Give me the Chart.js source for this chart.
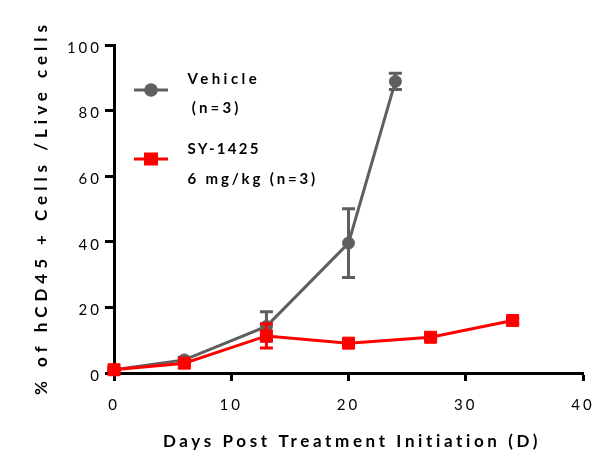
<!DOCTYPE html>
<html>
<head>
<meta charset="utf-8">
<script src="https://cdn.jsdelivr.net/npm/chart.js@4/dist/chart.umd.min.js"></script>
<style>
html,body{margin:0;padding:0;background:#fff;}
#c{display:block;}
</style>
</head>
<body>
<canvas id="c" width="594" height="452"></canvas>
<script>
// ---- data ----
const xTickValues = [0, 10, 20, 30, 40];
const yTickValues = [0, 20, 40, 60, 80, 100];
const vehicleDays = [0, 6, 13, 20, 24];
const vehicleMean = [1.0, 4.0, 14.2, 39.6, 88.9];
const vehicleErr  = [0.5, 0.8, 4.5, 10.5, 2.5];
const syDays = [0, 6, 13, 20, 27, 34];
const syMean = [1.0, 3.0, 11.3, 9.1, 10.9, 16.0];
const syErr  = [0.5, 0.5, 3.7, 0.8, 0.8, 0.8];
const legendLabels = [["Vehicle", "(n=3)"], ["SY-1425", "6 mg/kg (n=3)"]];
const xTitle = "Days Post Treatment Initiation (D)";
const yTitle = "% of hCD45 + Cells /Live cells";

const GRAY = '#5f5f5f';
const RED = '#ff0000';

function pts(xs, ys, es) { return xs.map((x, i) => ({x: x, y: ys[i], e: es[i]})); }

function spacedText(ctx, text, x, y, target) {
  ctx.letterSpacing = '0px';
  const w0 = ctx.measureText(text).width;
  const sp = text.length > 1 ? (target - w0) / (text.length - 1) : 0;
  ctx.letterSpacing = sp + 'px';
  ctx.fillText(text, x, y);
  ctx.letterSpacing = '0px';
}

const errorBars = {
  id: 'errorBars',
  beforeDatasetDraw(chart, args) {
    const ds = chart.data.datasets[args.index];
    const xs = chart.scales.x, ys = chart.scales.y;
    const ctx = chart.ctx;
    ctx.save();
    ctx.strokeStyle = ds.borderColor;
    ctx.lineWidth = 3;
    ds.data.forEach(p => {
      const px = xs.getPixelForValue(p.x);
      const top = ys.getPixelForValue(p.y + p.e);
      const bot = ys.getPixelForValue(p.y - p.e);
      ctx.beginPath();
      ctx.moveTo(px, top); ctx.lineTo(px, bot);
      ctx.moveTo(px - 6.5, top); ctx.lineTo(px + 6.5, top);
      ctx.moveTo(px - 6.5, bot); ctx.lineTo(px + 6.5, bot);
      ctx.stroke();
    });
    ctx.restore();
  }
};

const spacing = {
  id: 'spacing',
  beforeDraw(chart) { chart.ctx.letterSpacing = '3px'; }
};

const decor = {
  id: 'decor',
  afterDraw(chart) {
    const ctx = chart.ctx;
    ctx.save();
    ctx.fillStyle = '#000';
    ctx.textBaseline = 'alphabetic';
    ctx.textAlign = 'left';
    // x title
    ctx.font = 'bold 17px Lato';
    const xw = 375;
    spacedText(ctx, xTitle, 350.5 - xw / 2, 447, xw);
    // y title
    ctx.save();
    ctx.translate(47, 210);
    ctx.rotate(-Math.PI / 2);
    const yw = 370;
    spacedText(ctx, yTitle, -yw / 2, 0, yw);
    ctx.restore();
    // legend
    ctx.lineWidth = 3;
    ctx.strokeStyle = GRAY;
    ctx.beginPath(); ctx.moveTo(134, 90); ctx.lineTo(168, 90); ctx.stroke();
    ctx.fillStyle = GRAY;
    ctx.beginPath(); ctx.arc(151, 90, 6.8, 0, Math.PI * 2); ctx.fill();
    ctx.strokeStyle = RED;
    ctx.beginPath(); ctx.moveTo(134, 159); ctx.lineTo(168, 159); ctx.stroke();
    ctx.fillStyle = RED;
    ctx.fillRect(144, 152.5, 14, 13);
    ctx.fillStyle = '#000';
    ctx.font = 'bold 15px Lato';
    spacedText(ctx, legendLabels[0][0], 187.5, 84, 69.3);
    spacedText(ctx, legendLabels[0][1], 191.7, 113, 46.7);
    spacedText(ctx, legendLabels[1][0], 187.5, 154, 71);
    spacedText(ctx, legendLabels[1][1], 187.5, 184, 127.7);
    ctx.restore();
  }
};

Chart.defaults.font.family = 'Lato';

new Chart(document.getElementById('c'), {
  type: 'scatter',
  data: {
    datasets: [
      {
        label: legendLabels[0].join(' '),
        data: pts(vehicleDays, vehicleMean, vehicleErr),
        showLine: true,
        borderColor: GRAY,
        backgroundColor: GRAY,
        borderWidth: 3,
        pointStyle: 'circle',
        pointRadius: 6,
        pointBorderWidth: 1,
        pointHoverRadius: 6,
        order: 1,
        clip: false
      },
      {
        label: legendLabels[1].join(' '),
        data: pts(syDays, syMean, syErr),
        showLine: true,
        borderColor: RED,
        backgroundColor: RED,
        borderWidth: 3,
        pointStyle: 'rect',
        pointRadius: 8.5,
        pointBorderWidth: 1,
        pointHoverRadius: 8.5,
        order: 0,
        clip: false
      }
    ]
  },
  options: {
    responsive: false,
    animation: false,
    events: [],
    layout: { padding: { top: 45, right: 11, left: 0, bottom: 0 } },
    plugins: { legend: { display: false }, tooltip: { enabled: false } },
    scales: {
      x: {
        type: 'linear',
        min: 0, max: 40,
        afterFit(s) { s.height = 79; s.paddingLeft = 0; s.paddingRight = 0; },
        afterBuildTicks(s) { s.ticks = xTickValues.map(v => ({value: v})); },
        ticks: { color: '#000', font: { size: 15, family: 'Lato' }, padding: 15, maxRotation: 0 },
        grid: { drawOnChartArea: false, drawTicks: true, tickLength: 8, tickWidth: 3, tickColor: '#000' },
        border: { display: true, color: '#000', width: 3 }
      },
      y: {
        type: 'linear',
        min: 0, max: 100,
        afterFit(s) { s.width = 114; s.paddingTop = 0; s.paddingBottom = 0; },
        afterBuildTicks(s) { s.ticks = yTickValues.map(v => ({value: v})); },
        ticks: { color: '#000', font: { size: 15, family: 'Lato' }, padding: 3, labelOffset: 3 },
        grid: { drawOnChartArea: false, drawTicks: true, tickLength: 9, tickWidth: 3, tickColor: '#000' },
        border: { display: true, color: '#000', width: 3 }
      }
    }
  },
  plugins: [spacing, errorBars, decor]
});
</script>
</body>
</html>
